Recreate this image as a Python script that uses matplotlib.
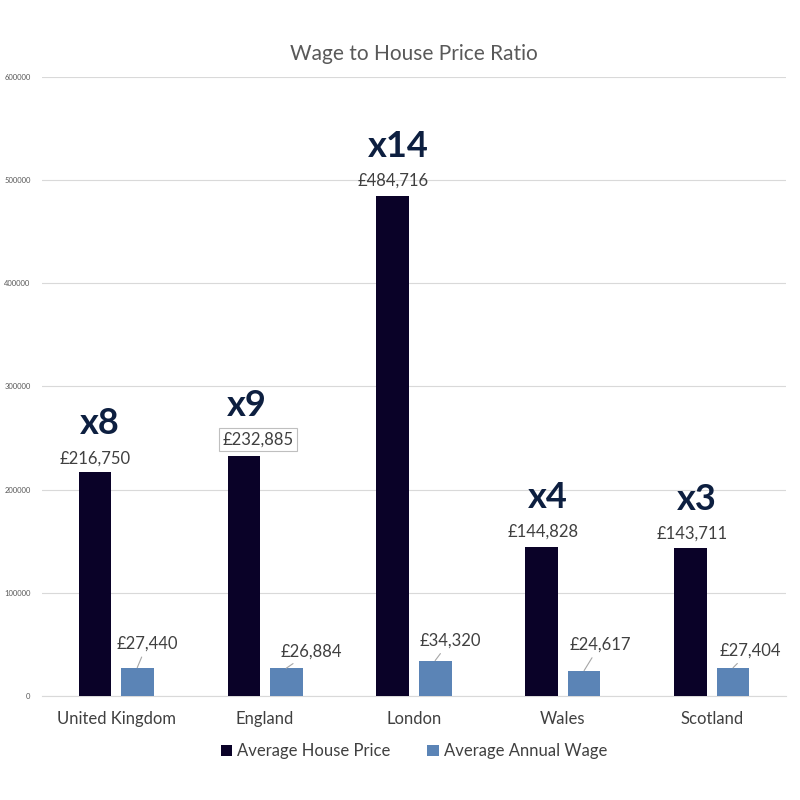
import numpy as np
import matplotlib.pyplot as plt

plt.rcParams['font.family'] = ['Lato', 'DejaVu Sans']

regions = ["United Kingdom", "England", "London", "Wales", "Scotland"]
house_price = [216750, 232885, 484716, 144828, 143711]
annual_wage = [27440, 26884, 34320, 24617, 27404]
ratio_labels = ["x8", "x9", "x14", "x4", "x3"]

dark = "#0a0228"
light = "#5b84b6"
text_col = "#404040"

fig = plt.figure(figsize=(8, 8), dpi=100)
ax = fig.add_axes([0.052, 0.13, 0.931, 0.774])

x = np.arange(len(regions))
w = 0.22
off = 0.142
b1 = ax.bar(x - off, house_price, w, color=dark, label="Average House Price", zorder=3)
b2 = ax.bar(x + off, annual_wage, w, color=light, label="Average Annual Wage", zorder=3)

ax.set_xlim(-0.5, len(regions) - 0.5)
ax.set_ylim(0, 600000)
ax.set_yticks(np.arange(0, 600001, 100000))
ax.set_yticklabels([str(v) for v in range(0, 600001, 100000)], fontsize=5.5, color="#595959")
ax.yaxis.grid(True, color="#d9d9d9", linewidth=0.8, zorder=0)
ax.tick_params(axis="y", length=0, pad=8)
ax.tick_params(axis="x", length=0, pad=11, labelsize=12, labelcolor=text_col)
ax.set_xticks(x)
ax.set_xticklabels(regions)
for s in ["top", "right", "left"]:
    ax.spines[s].set_visible(False)
ax.spines["bottom"].set_color("#d9d9d9")

ax.set_title("Wage to House Price Ratio", fontsize=15, color="#595959", pad=12)

# house price labels and ratio labels
hp_off = [(0, 6), (14, 8), (0, 7), (1, 7), (1, 6)]
for i, r in enumerate(b1):
    cx = r.get_x() + r.get_width() / 2
    dx, dy = hp_off[i]
    box = None
    if i == 1:
        box = dict(boxstyle="square,pad=0.2", fc="white", ec="#bfbfbf", lw=0.8)
    ax.annotate(f"£{house_price[i]:,}", (cx, house_price[i]), xytext=(dx, dy),
                textcoords="offset pixels", ha="center", va="bottom",
                fontsize=12, color=text_col, bbox=box)
    ax.annotate(ratio_labels[i], (cx, house_price[i]), xytext=(dx + 5 if i != 1 else 3, dy + 26),
                textcoords="offset pixels", ha="center", va="bottom",
                fontsize=26, fontweight="bold", color="#0d1f40")

# wage labels with leader lines
wg_off = [(10, 16), (25, 9), (15, 12), (16, 18), (17, 9)]
for i, r in enumerate(b2):
    cx = r.get_x() + r.get_width() / 2
    dx, dy = wg_off[i]
    ax.annotate(f"£{annual_wage[i]:,}", (cx, annual_wage[i]), xytext=(dx, dy),
                textcoords="offset pixels", ha="center", va="bottom",
                fontsize=12, color=text_col,
                arrowprops=dict(arrowstyle="-", color="#a6a6a6", lw=0.8,
                                shrinkA=2, shrinkB=0))

leg = ax.legend(loc="upper center", bbox_to_anchor=(0.5, -0.052), ncol=2, frameon=False,
                fontsize=12, handlelength=0.7, handleheight=0.7, columnspacing=2.2,
                handletextpad=0.3)
for t in leg.get_texts():
    t.set_color(text_col)

fig.savefig("out.png", dpi=100)
